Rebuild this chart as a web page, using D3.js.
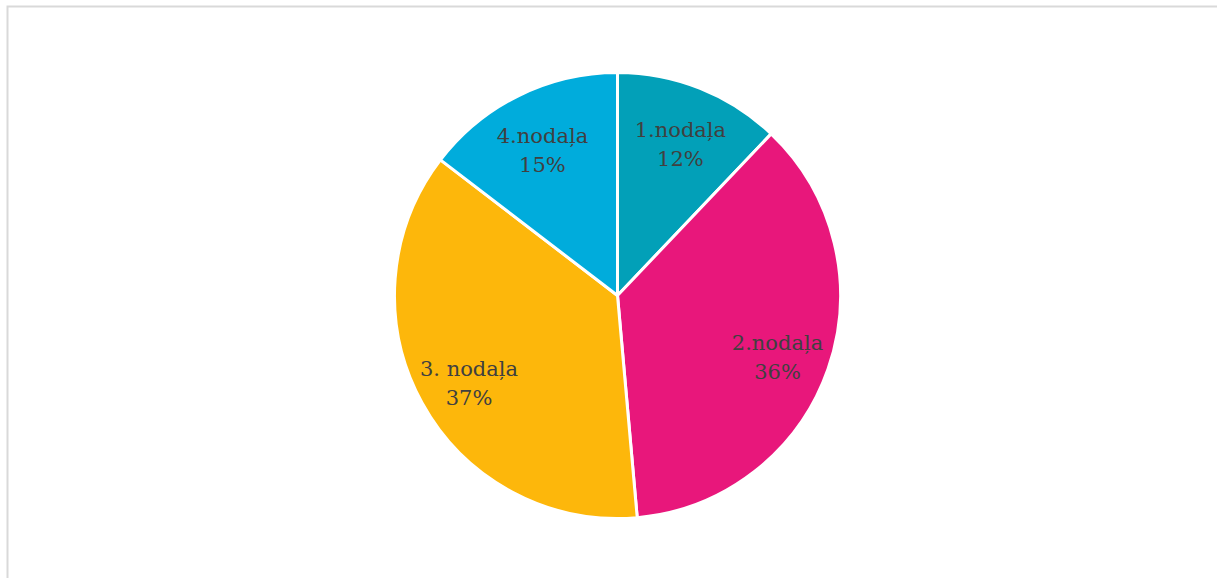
<!DOCTYPE html>
<html>
<head>
<meta charset="utf-8">
<script src="https://cdn.jsdelivr.net/npm/d3@7"></script>
<style>
  body { margin: 0; background: #fff; }
  svg { display: block; }
</style>
</head>
<body>
<svg width="1217" height="578"></svg>
<script>
const labels = ["1.nodaļa", "2.nodaļa", "3. nodaļa", "4.nodaļa"];
const values = [12.1, 36.49, 36.81, 14.6];
const colors = ["#02a0b8", "#e8177b", "#fdb70b", "#00acdc"];

const width = 1217;
const height = 578;
const cx = 617.5;
const cy = 295.5;
const radius = 223;

const svg = d3.select("svg");

// chart frame (only top and left edges visible)
svg.append("rect")
  .attr("x", 7.5)
  .attr("y", 6.5)
  .attr("width", 1240)
  .attr("height", 600)
  .attr("fill", "none")
  .attr("stroke", "#d9d9d9")
  .attr("stroke-width", 2);

const total = d3.sum(values);
const pie = d3.pie().sort(null).value((d) => d);
const arcs = pie(values);

const arc = d3.arc().innerRadius(0).outerRadius(radius);
const labelArc = d3.arc().innerRadius(radius * 0.76).outerRadius(radius * 0.76);

const g = svg.append("g").attr("transform", `translate(${cx},${cy})`);

g.selectAll("path")
  .data(arcs)
  .enter()
  .append("path")
  .attr("d", arc)
  .attr("fill", (d, i) => colors[i])
  .attr("stroke", "#fff")
  .attr("stroke-width", 3)
  .attr("stroke-linejoin", "round");

const text = g.selectAll("text")
  .data(arcs)
  .enter()
  .append("text")
  .attr("transform", (d) => `translate(${labelArc.centroid(d)})`)
  .attr("text-anchor", "middle")
  .attr("font-family", "'DejaVu Serif', 'Liberation Serif', serif")
  .attr("font-size", 21)
  .attr("fill", "#404040");

text.append("tspan")
  .attr("x", 0)
  .attr("y", -1)
  .text((d, i) => labels[i]);

text.append("tspan")
  .attr("x", 0)
  .attr("y", 28)
  .text((d) => Math.round((d.value / total) * 100) + "%");
</script>
</body>
</html>
